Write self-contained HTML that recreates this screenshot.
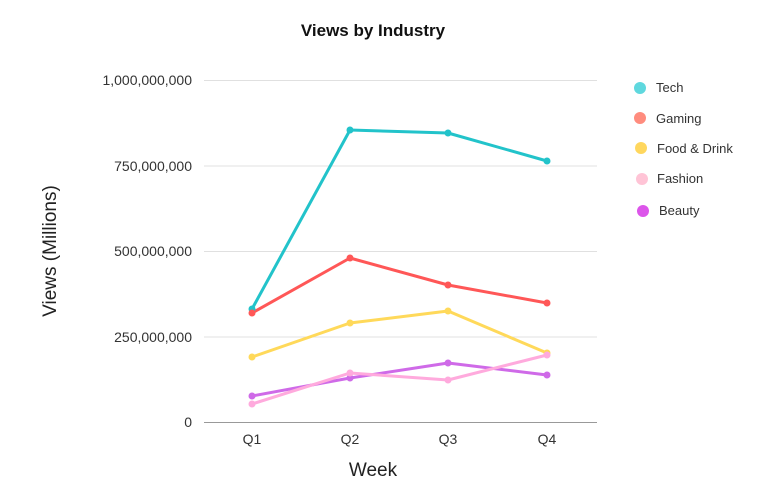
<!DOCTYPE html>
<html><head><meta charset="utf-8"><style>
body{margin:0;background:#fff;}
svg{display:block;font-family:"Liberation Sans",sans-serif;}
</style></head><body>
<svg width="768" height="499" viewBox="0 0 768 499">
<text x="373" y="36" text-anchor="middle" font-size="17" font-weight="bold" fill="#111">Views by Industry</text>
<g stroke="#e0e0e0" stroke-width="1">
<line x1="204" y1="80.5" x2="597" y2="80.5"/>
<line x1="204" y1="166" x2="597" y2="166"/>
<line x1="204" y1="251.5" x2="597" y2="251.5"/>
<line x1="204" y1="337" x2="597" y2="337"/>
</g>
<line x1="204" y1="422.5" x2="597" y2="422.5" stroke="#999" stroke-width="1"/>
<g font-size="14" fill="#333" text-anchor="end">
<text x="192" y="85">1,000,000,000</text>
<text x="192" y="171">750,000,000</text>
<text x="192" y="256">500,000,000</text>
<text x="192" y="342">250,000,000</text>
<text x="192" y="427">0</text>
</g>
<g font-size="14" fill="#333" text-anchor="middle">
<text x="252" y="444">Q1</text><text x="350" y="444">Q2</text><text x="448" y="444">Q3</text><text x="547" y="444">Q4</text>
</g>
<text x="373" y="476" text-anchor="middle" font-size="19" fill="#222">Week</text>
<text transform="translate(56,251) rotate(-90)" text-anchor="middle" font-size="19" fill="#222">Views (Millions)</text>
<g fill="none" stroke-width="3" stroke-linejoin="round">
<polyline stroke="#22c3ca" points="252,309 350,130 448,133 547,161"/>
<polyline stroke="#ff5757" points="252,313 350,258 448,285 547,303"/>
<polyline stroke="#ffd95a" points="252,357 350,323 448,311 547,353"/>
<polyline stroke="#cf6ae8" points="252,396 350,378 448,363 547,375"/>
<polyline stroke="#ffaadd" points="252,404 350,373 448,380 547,355"/>
</g>
<g fill="#22c3ca"><circle cx="252" cy="309" r="3.5"/><circle cx="350" cy="130" r="3.5"/><circle cx="448" cy="133" r="3.5"/><circle cx="547" cy="161" r="3.5"/></g>
<g fill="#ff5757"><circle cx="252" cy="313" r="3.5"/><circle cx="350" cy="258" r="3.5"/><circle cx="448" cy="285" r="3.5"/><circle cx="547" cy="303" r="3.5"/></g>
<g fill="#ffd95a"><circle cx="252" cy="357" r="3.5"/><circle cx="350" cy="323" r="3.5"/><circle cx="448" cy="311" r="3.5"/><circle cx="547" cy="353" r="3.5"/></g>
<g fill="#cf6ae8"><circle cx="252" cy="396" r="3.5"/><circle cx="350" cy="378" r="3.5"/><circle cx="448" cy="363" r="3.5"/><circle cx="547" cy="375" r="3.5"/></g>
<g fill="#ffaadd"><circle cx="252" cy="404" r="3.5"/><circle cx="350" cy="373" r="3.5"/><circle cx="448" cy="380" r="3.5"/><circle cx="547" cy="355" r="3.5"/></g>
<g font-size="13" fill="#333">
<circle cx="640" cy="88" r="6" fill="#5fd8de"/><text x="656" y="92">Tech</text>
<circle cx="640" cy="118" r="6" fill="#ff8c7e"/><text x="656" y="123">Gaming</text>
<circle cx="641" cy="148" r="6" fill="#ffd75e"/><text x="657" y="153">Food &amp; Drink</text>
<circle cx="642" cy="179" r="6" fill="#ffc4d6"/><text x="657" y="183">Fashion</text>
<circle cx="643" cy="211" r="6" fill="#dc55ea"/><text x="659" y="215">Beauty</text>
</g>
</svg>
</body></html>
